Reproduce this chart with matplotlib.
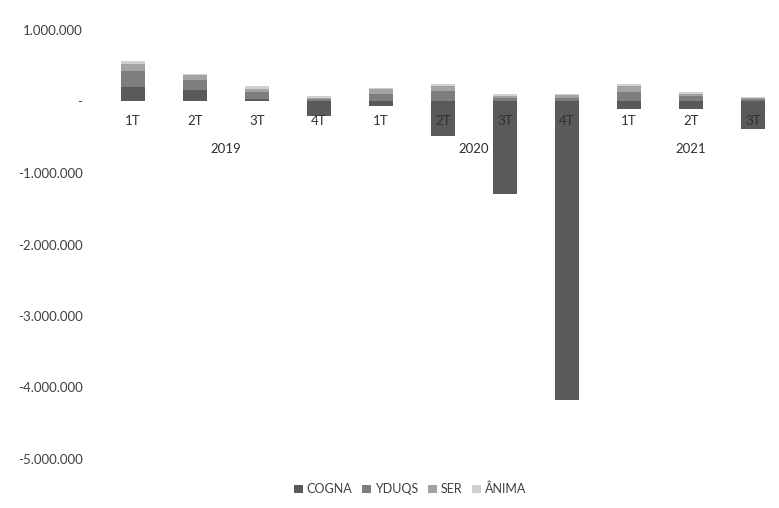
import matplotlib
matplotlib.use("Agg")
import matplotlib.pyplot as plt
import numpy as np

plt.rcParams['font.family'] = ['Lato', 'DejaVu Sans']

quarters = ['1T', '2T', '3T', '4T', '1T', '2T', '3T', '4T', '1T', '2T', '3T']
years = ['2019', '2020', '2021']
year_spans = [(0, 3), (4, 7), (8, 10)]

cogna = [200000, 160000, 40000, -200000, -60000, -480000, -1300000, -4180000, -100000, -100000, -380000]
yduqs = [220000, 140000, 90000, 30000, 110000, 140000, 50000, 55000, 130000, 70000, 30000]
ser = [110000, 65000, 50000, 20000, 60000, 70000, 30000, 35000, 90000, 40000, 20000]
anima = [40000, 25000, 30000, 20000, 20000, 30000, 20000, 20000, 30000, 20000, 10000]

series = [('COGNA', cogna, '#5a5a5a'),
          ('YDUQS', yduqs, '#7e7e7e'),
          ('SER', ser, '#a3a3a3'),
          ('ÂNIMA', anima, '#d0d0d0')]

fig = plt.figure(figsize=(7.79, 5.08), dpi=100)
ax = fig.add_axes([102 / 779, 49 / 508, 682 / 779, 429 / 508])

x = np.arange(len(quarters))
pos_base = np.zeros(len(quarters))
neg_base = np.zeros(len(quarters))
for name, vals, color in series:
    vals = np.array(vals, dtype=float)
    base = np.where(vals >= 0, pos_base, neg_base)
    ax.bar(x, vals, width=0.4, bottom=base, color=color, label=name,
           linewidth=0, zorder=2)
    pos_base += np.where(vals >= 0, vals, 0)
    neg_base += np.where(vals < 0, vals, 0)

ax.set_xlim(-0.5, len(quarters) - 0.5)
ax.set_ylim(-5000000, 1000000)
ticks = np.arange(-5000000, 1000001, 1000000)
ax.set_yticks(ticks)
def fmt(v):
    if v == 0:
        return '-'
    s = '{:,.0f}'.format(abs(v)).replace(',', '.')
    return ('-' if v < 0 else '') + s
ax.set_yticklabels([fmt(t) for t in ticks], fontsize=9.5, color='#404040')
ax.tick_params(axis='y', length=0, pad=14)
ax.set_xticks([])
for s in ax.spines.values():
    s.set_visible(False)

trans = ax.get_xaxis_transform()
for i, q in enumerate(quarters):
    ax.text(i, 0.788, q, transform=trans, ha='center', va='center',
            fontsize=9.5, color='#303030', zorder=5)
for yr, (a, b) in zip(years, year_spans):
    ax.text((a + b) / 2, 0.7226, yr, transform=trans, ha='center', va='center',
            fontsize=9.5, color='#303030')

fig.legend(loc='center', bbox_to_anchor=(410 / 779, 1 - 489 / 508), ncol=4,
           frameon=False, fontsize=9, handlelength=0.7, handleheight=0.7,
           handletextpad=0.3, columnspacing=0.8, labelcolor='#404040')

fig.savefig('out.png', dpi=100)
